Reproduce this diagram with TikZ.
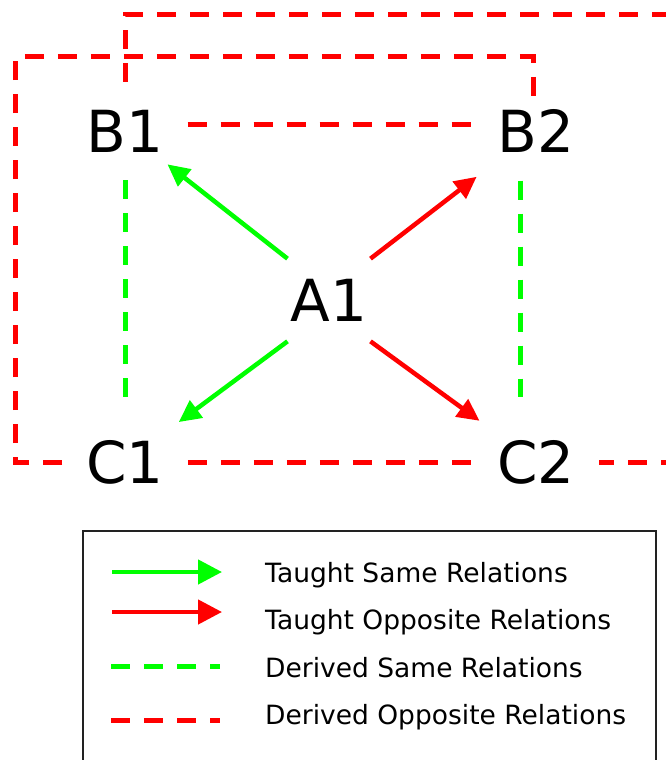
\documentclass[tikz,border=0pt]{standalone}
\usepackage{fontspec}
\setmainfont{DejaVu Sans}
\usepackage{xcolor}
\usepackage{tikz}
\usetikzlibrary{
  arrows.meta, positioning, calc
}
\definecolor{colGreen}{HTML}{00FF00}
\definecolor{colRed}  {HTML}{FF0000}
\definecolor{colFrame}{HTML}{222222}
\tikzset{
  term/.style={
    font=\fontsize{58}{60}\selectfont,
    inner xsep=24pt, inner ysep=28pt
  },
  hub/.style={term, inner xsep=3pt, inner ysep=20pt},
  legtext/.style={
    font=\fontsize{26.5}{30}\selectfont,
    anchor=base west, inner sep=0pt
  },
  samearr/.style={
    -{Triangle[length=22pt,width=21pt]},
    line width=4.5pt, draw=colGreen
  },
  opparr/.style={
    -{Triangle[length=22pt,width=21pt]},
    line width=4.5pt, draw=colRed
  },
  samedash/.style={
    line width=5pt, draw=colGreen,
    dash pattern=on 19pt off 14pt
  },
  oppdash/.style={
    line width=5pt, draw=colRed,
    dash pattern=on 19pt off 14pt
  },
  % Legend keys
  keyarr/.style={
    -{Triangle[length=24pt,width=24pt]},
    line width=4.5pt
  },
  legbox/.style={draw=colFrame, line width=1.5pt}
}

\begin{document}
\begin{tikzpicture}[x=1pt, y=-1pt]
  \useasboundingbox (0,0) rectangle (666,760);

  %% ── Stimuli ──────────────────────────────────────────────────────
  \node[term] (b1) at (125,131) {B1};
  \node[term] (b2) at (536,131) {B2};
  \node[hub]  (a1) at (329,300) {A1};
  \node[term] (c1) at (125,462) {C1};
  \node[term] (c2) at (536,462) {C2};

  %% ── Taught relations ─────────────────────────────────────────────
  \draw[samearr, shorten >=54pt] (a1.north west) -- (b1.center);
  \draw[samearr, shorten >=67pt] (a1.south west) -- (c1.center);
  \draw[opparr,  shorten >=75pt] (a1.north east) -- (b2.center);
  \draw[opparr,  shorten >=70pt] (a1.south east) -- (c2.center);

  %% ── Derived same relations ───────────────────────────────────────
  \draw[samedash, shorten >=15pt] (b1.south) -- (c1.north);
  \draw[samedash, shorten >=15pt]
    ([xshift=-16pt]b2.south) -- ([xshift=-16pt]c2.north);

  %% ── Derived opposite relations ───────────────────────────────────
  \draw[oppdash] ([yshift=7pt]b1.east) -- ([yshift=7pt]b2.west);
  \draw[oppdash] (c1.east) -- (c2.west);

  % C1 -> B2 (loop round the left and top)
  \draw[oppdash] (c1.west) -| (15,57) -| ([xshift=-3pt,yshift=-25pt]b2.north);

  % B1 -> C2 (loop over the top, back in from the right)
  \draw[oppdash] (b1.north) |- (690,15) |- (c2.east);

  %% ── Legend ───────────────────────────────────────────────────────
  \draw[legbox] (83,531) rectangle (656,800);

  \node[legtext] (l1) at (265,582) {Taught Same Relations};
  \node[legtext] (l2) at (265,629) {Taught Opposite Relations};
  \node[legtext] (l3) at (265,677) {Derived Same Relations};
  \node[legtext] (l4) at (265,724) {Derived Opposite Relations};

  \coordinate (k1s) at (112,572);  \coordinate (k1e) at (222,572);
  \coordinate (k2s) at (112,612);  \coordinate (k2e) at (222,612);
  \coordinate (k3s) at (111,666);  \coordinate (k3e) at (220,666);
  \coordinate (k4s) at (111,720);  \coordinate (k4e) at (220,720);

  \draw[keyarr, draw=colGreen] (k1s) -- (k1e);
  \draw[keyarr, draw=colRed]   (k2s) -- (k2e);
  \draw[samedash] (k3s) -- (k3e);
  \draw[oppdash]  (k4s) -- (k4e);
\end{tikzpicture}
\end{document}
